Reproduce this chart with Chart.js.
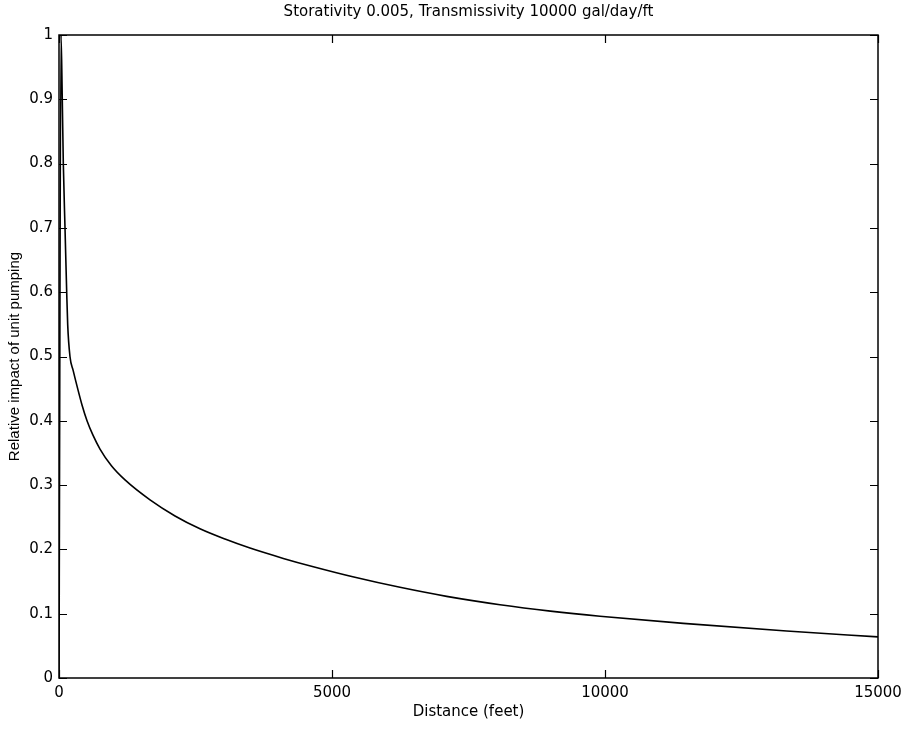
<!DOCTYPE html>
<html>
<head>
<meta charset="utf-8">
<script src="https://cdn.jsdelivr.net/npm/chart.js@4"></script>
<style>
  html, body { margin: 0; padding: 0; background: #fff; }
  #wrap { width: 910px; height: 729px; }
</style>
</head>
<body>
<div id="wrap"><canvas id="c" width="910" height="729"></canvas></div>
<script>
const chartTitle = 'Storativity 0.005, Transmissivity 10000 gal/day/ft';
const xTitle = 'Distance (feet)';
const yTitle = 'Relative impact of unit pumping';
const distance = [0, 37, 60, 79, 110, 141, 159, 201, 260, 342, 420, 513, 620, 751, 960, 1209, 1667, 2125, 2582, 3040, 3498, 4108, 4658, 5400, 6245, 7100, 8077, 9000, 9908, 11434, 13327, 15000];
const impact = [0, 1.0, 0.90, 0.80, 0.70, 0.60, 0.55, 0.50, 0.478, 0.45, 0.425, 0.40, 0.378, 0.356, 0.33, 0.308, 0.277, 0.252, 0.232, 0.216, 0.202, 0.186, 0.173, 0.157, 0.141, 0.127, 0.114, 0.104, 0.096, 0.085, 0.073, 0.064];
const xTickLabels = ['0', '5000', '10000', '15000'];
const yTickLabels = ['0', '0.1', '0.2', '0.3', '0.4', '0.5', '0.6', '0.7', '0.8', '0.9', '1'];

const FONT_H = '"DejaVu Sans", Arial, sans-serif';
const FONT_V = '"Liberation Sans", Arial, Helvetica, sans-serif';

const frameTicks = {
  id: 'frameTicks',
  afterDraw(chart) {
    const { ctx, chartArea: { left, right, top, bottom }, scales: { x, y } } = chart;
    const L = 8;
    ctx.save();
    ctx.strokeStyle = '#000';
    ctx.lineWidth = 1.5;
    ctx.strokeRect(left, top, right - left, bottom - top);
    ctx.beginPath();
    y.ticks.forEach(t => {
      const py = Math.round(y.getPixelForValue(t.value)) + 0.5;
      ctx.moveTo(left, py); ctx.lineTo(left + L, py);
      ctx.moveTo(right, py); ctx.lineTo(right - L, py);
    });
    x.ticks.forEach(t => {
      const px = Math.round(x.getPixelForValue(t.value)) + 0.5;
      ctx.moveTo(px, bottom); ctx.lineTo(px, bottom - L);
      ctx.moveTo(px, top); ctx.lineTo(px, top + L);
    });
    ctx.lineWidth = 1.2;
    ctx.stroke();
    ctx.restore();
  }
};

new Chart(document.getElementById('c'), {
  type: 'line',
  data: {
    labels: distance,
    datasets: [{
      data: distance.map((d, i) => ({ x: d, y: impact[i] })),
      borderColor: '#000',
      borderWidth: 1.6,
      pointRadius: 0,
      fill: false,
      cubicInterpolationMode: 'monotone'
    }]
  },
  options: {
    responsive: false,
    animation: false,
    layout: { padding: { left: 0, right: 32, top: 0, bottom: 0 } },
    plugins: {
      legend: { display: false },
      tooltip: { enabled: false },
      title: {
        display: true,
        fullSize: false,
        text: chartTitle,
        color: '#000',
        font: { family: FONT_H, size: 15, weight: 'normal' },
        padding: { top: 3, bottom: 14 }
      }
    },
    scales: {
      x: {
        type: 'linear',
        min: 0, max: 15000,
        afterFit(s) { s.height = 51; },
        grid: { display: false, drawTicks: false },
        border: { display: false },
        ticks: {
          stepSize: 5000,
          padding: 6,
          maxRotation: 0,
          color: '#000',
          font: { family: FONT_H, size: 15 },
          callback: (v, i) => xTickLabels[i]
        },
        title: {
          display: true,
          text: xTitle,
          color: '#000',
          font: { family: FONT_H, size: 15 },
          padding: { top: 0, bottom: 8 }
        }
      },
      y: {
        min: 0, max: 1,
        afterFit(s) { s.width = 59; },
        grid: { display: false, drawTicks: false },
        border: { display: false },
        ticks: {
          stepSize: 0.1,
          padding: 6,
          color: '#000',
          font: { family: FONT_H, size: 15 },
          callback: (v, i) => yTickLabels[i]
        },
        title: {
          display: true,
          text: yTitle,
          color: '#000',
          font: { family: FONT_V, size: 15 },
          padding: { top: 6, bottom: 0 }
        }
      }
    }
  },
  plugins: [frameTicks]
});
</script>
</body>
</html>
